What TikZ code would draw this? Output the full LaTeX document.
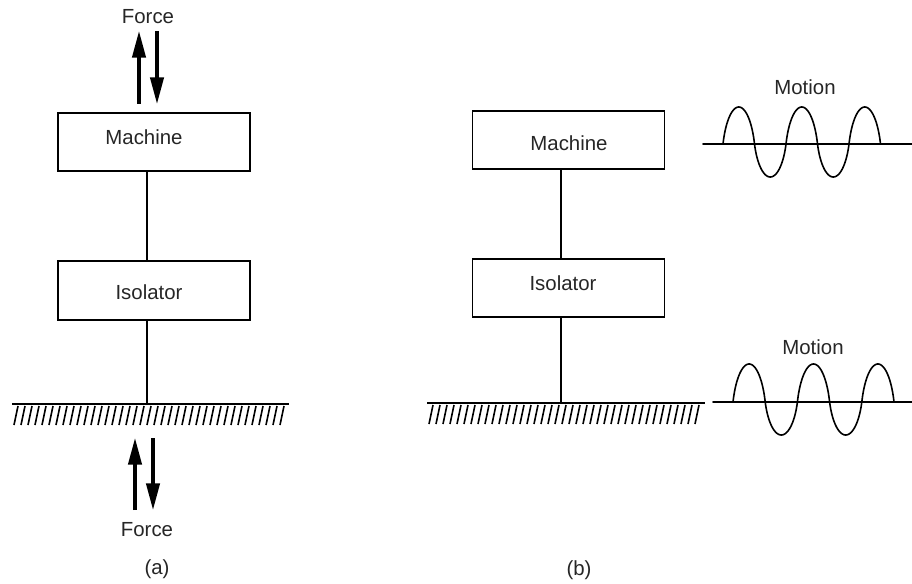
\documentclass[tikz,border=0pt]{standalone}
\usepackage{fontspec}
\setmainfont{Liberation Sans}
\usetikzlibrary{arrows.meta,calc}
\begin{document}
\begin{tikzpicture}[x=0.75pt,y=-0.75pt,
  box/.style={draw,line width=1.4pt,minimum width=144pt,minimum height=44pt,inner sep=0pt},
  txt/.style={font=\fontsize{15.3}{18}\selectfont,inner sep=0pt,text=black!85},
  link/.style={line width=1.3pt},
  ground/.style={line width=1.5pt},
  hatch/.style={line width=1.2pt},
  force/.style={line width=2.4pt,-{Triangle[length=20pt,width=10pt]}},
  wave/.style={line width=1.2pt,line cap=round,line join=round}]
\fill[white] (0,0) rectangle (912,584);
\useasboundingbox (0,0) rectangle (912,584);

% ---------- (a) ----------
\node[box] (mA) at (154,142) {};
\node[box] (iA) at (154,290.5) {};
\node[txt] (tmA) at (144,137) {Machine};
\node[txt] (tiA) at (149,292) {Isolator};
\coordinate (gA) at (147,404);
\draw[link] (mA.south -| gA) -- (iA.north -| gA);
\draw[link] (iA.south -| gA) -- (gA);
\draw[ground] (12,404) -- (289,404);
\foreach \x in {16,23,...,286} \draw[hatch] (\x+2,406) -- (\x-2,425);

\node[txt] (fA1) at (148,17) {Force};
\coordinate (uA1b) at (139,104); \coordinate (uA1t) at (139,31);
\coordinate (dA1t) at (157,31); \coordinate (dA1b) at (157,104);
\draw[force] (uA1b) -- (uA1t);
\draw[force] (dA1t) -- (dA1b);

\coordinate (uA2b) at (135,510); \coordinate (uA2t) at (135,438);
\coordinate (dA2t) at (153,438); \coordinate (dA2b) at (153,510);
\draw[force] (uA2b) -- (uA2t);
\draw[force] (dA2t) -- (dA2b);
\node[txt] (fA2) at (147,530) {Force};
\node[txt] (capA) at (157,569) {(a)};

% ---------- (b) ----------
\node[box] (mB) at (568.5,140) {};
\node[box] (iB) at (568.5,288) {};
\node[txt] (tmB) at (569,143) {Machine};
\node[txt] (tiB) at (563,283) {Isolator};
\coordinate (gB) at (561,403);
\draw[link] (mB.south -| gB) -- (iB.north -| gB);
\draw[link] (iB.south -| gB) -- (gB);
\draw[ground] (427,403) -- (705,403);
\foreach \x in {431,438,...,701} \draw[hatch] (\x+2,405) -- (\x-2,424);
\node[txt] (capB) at (579,570) {(b)};

% motion waves
\node[txt] (mo1) at (805,87) {Motion};
\draw[wave] (703,144) -- (912,144);
\foreach \k in {0,...,4}
  \draw[wave] plot[domain=0:180,samples=40,smooth]
    ({723+31.5*(\k+0.6*(1-cos(\x))/2+0.4*\x/180)},
     {144-(35+2*cos(180*\k))*cos(180*\k)*sin(\x)});

\node[txt] (mo2) at (813,347) {Motion};
\draw[wave] (713,402) -- (912,402);
\foreach \k in {0,...,4}
  \draw[wave] plot[domain=0:180,samples=40,smooth]
    ({733+32.2*(\k+0.6*(1-cos(\x))/2+0.4*\x/180)},
     {402-(35.5+2.5*cos(180*\k))*cos(180*\k)*sin(\x)});
\end{tikzpicture}
\end{document}
